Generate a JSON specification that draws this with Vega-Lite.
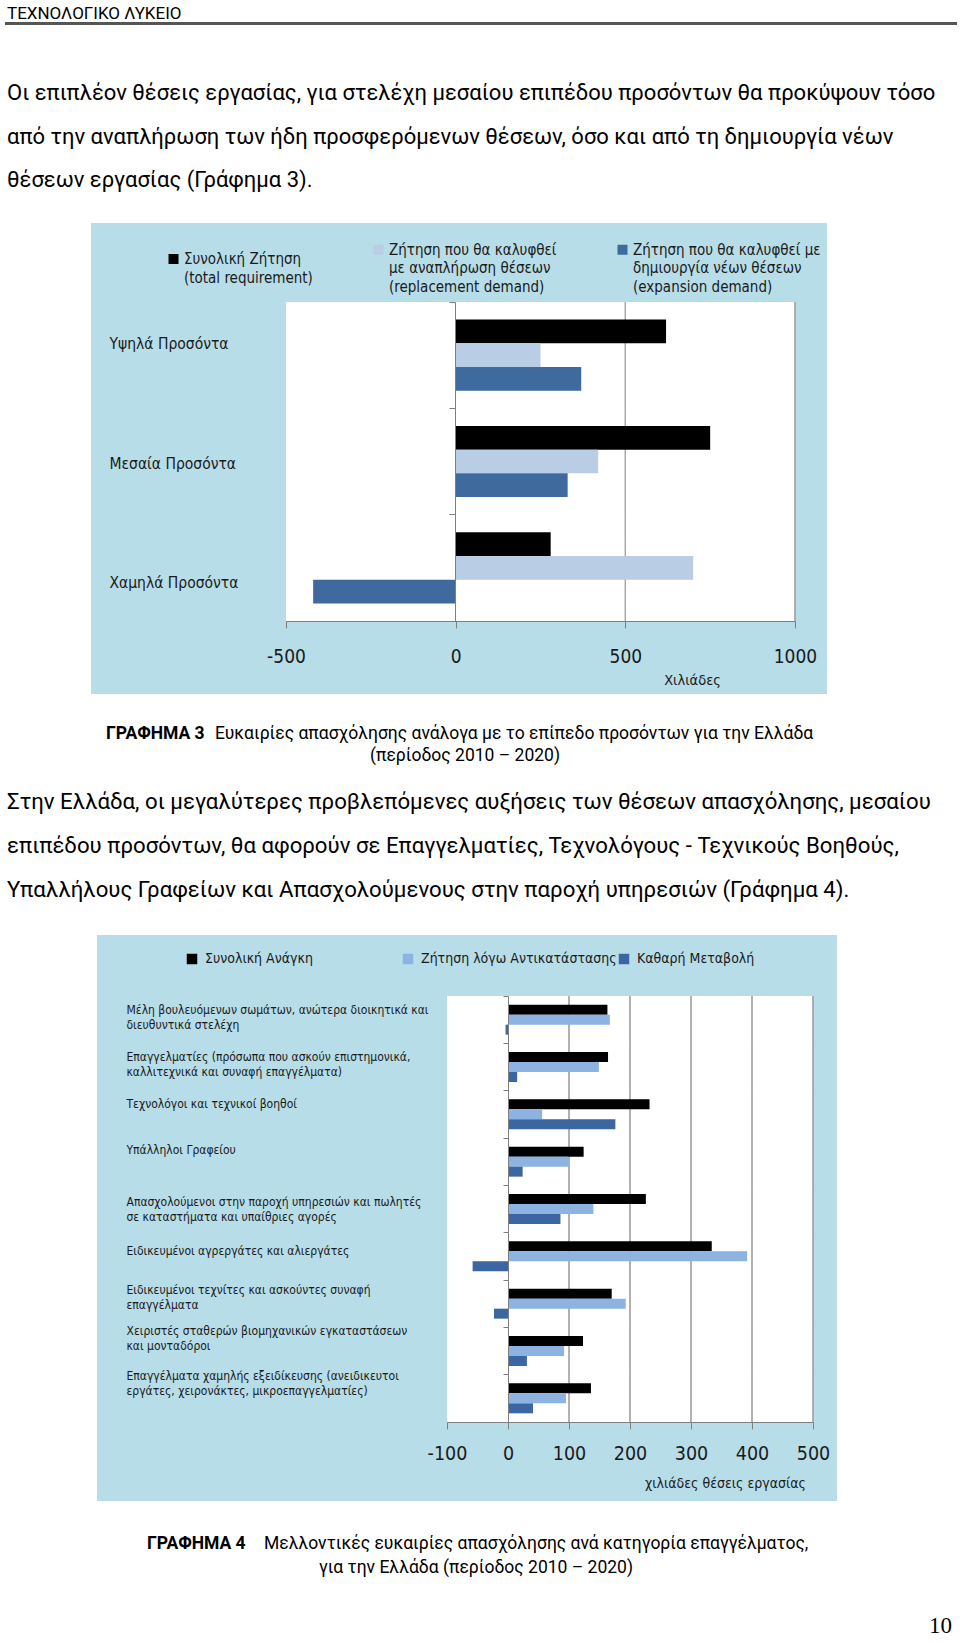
{
  "$schema": "https://vega.github.io/schema/vega-lite/v6.json",
  "background": "white",
  "padding": {"left": 5, "top": 0, "right": 0, "bottom": 0},
  "config": {
    "view": {"stroke": null},
    "title": {"font": "Roboto", "fontWeight": "normal", "color": "#000000", "anchor": "start", "orient": "bottom", "baseline": "top", "offset": 0}
  },
  "datasets": {
    "none": [],
    "qual": [
      {"level": "Υψηλά Προσόντα", "series": "Συνολική Ζήτηση\n(total requirement)", "value": 620},
      {"level": "Υψηλά Προσόντα", "series": "Ζήτηση που θα καλυφθεί\nμε αναπλήρωση θέσεων\n(replacement demand)", "value": 250},
      {"level": "Υψηλά Προσόντα", "series": "Ζήτηση που θα καλυφθεί με\nδημιουργία νέων θέσεων\n(expansion demand)", "value": 370},
      {"level": "Μεσαία Προσόντα", "series": "Συνολική Ζήτηση\n(total requirement)", "value": 750},
      {"level": "Μεσαία Προσόντα", "series": "Ζήτηση που θα καλυφθεί\nμε αναπλήρωση θέσεων\n(replacement demand)", "value": 420},
      {"level": "Μεσαία Προσόντα", "series": "Ζήτηση που θα καλυφθεί με\nδημιουργία νέων θέσεων\n(expansion demand)", "value": 330},
      {"level": "Χαμηλά Προσόντα", "series": "Συνολική Ζήτηση\n(total requirement)", "value": 280},
      {"level": "Χαμηλά Προσόντα", "series": "Ζήτηση που θα καλυφθεί\nμε αναπλήρωση θέσεων\n(replacement demand)", "value": 700},
      {"level": "Χαμηλά Προσόντα", "series": "Ζήτηση που θα καλυφθεί με\nδημιουργία νέων θέσεων\n(expansion demand)", "value": -420}
    ],
    "occ": [
      {"occupation": "Μέλη βουλευόμενων σωμάτων, ανώτερα διοικητικά και\nδιευθυντικά στελέχη", "series": "Συνολική Ανάγκη", "value": 163},
      {"occupation": "Μέλη βουλευόμενων σωμάτων, ανώτερα διοικητικά και\nδιευθυντικά στελέχη", "series": "Ζήτηση λόγω Αντικατάστασης", "value": 167},
      {"occupation": "Μέλη βουλευόμενων σωμάτων, ανώτερα διοικητικά και\nδιευθυντικά στελέχη", "series": "Καθαρή Μεταβολή", "value": -4},
      {"occupation": "Επαγγελματίες (πρόσωπα που ασκούν επιστημονικά,\nκαλλιτεχνικά και συναφή επαγγέλματα)", "series": "Συνολική Ανάγκη", "value": 164},
      {"occupation": "Επαγγελματίες (πρόσωπα που ασκούν επιστημονικά,\nκαλλιτεχνικά και συναφή επαγγέλματα)", "series": "Ζήτηση λόγω Αντικατάστασης", "value": 149},
      {"occupation": "Επαγγελματίες (πρόσωπα που ασκούν επιστημονικά,\nκαλλιτεχνικά και συναφή επαγγέλματα)", "series": "Καθαρή Μεταβολή", "value": 15},
      {"occupation": "Τεχνολόγοι και τεχνικοί βοηθοί", "series": "Συνολική Ανάγκη", "value": 232},
      {"occupation": "Τεχνολόγοι και τεχνικοί βοηθοί", "series": "Ζήτηση λόγω Αντικατάστασης", "value": 56},
      {"occupation": "Τεχνολόγοι και τεχνικοί βοηθοί", "series": "Καθαρή Μεταβολή", "value": 176},
      {"occupation": "Υπάλληλοι Γραφείου", "series": "Συνολική Ανάγκη", "value": 124},
      {"occupation": "Υπάλληλοι Γραφείου", "series": "Ζήτηση λόγω Αντικατάστασης", "value": 100},
      {"occupation": "Υπάλληλοι Γραφείου", "series": "Καθαρή Μεταβολή", "value": 24},
      {"occupation": "Απασχολούμενοι στην παροχή υπηρεσιών και πωλητές\nσε καταστήματα και υπαίθριες αγορές", "series": "Συνολική Ανάγκη", "value": 226},
      {"occupation": "Απασχολούμενοι στην παροχή υπηρεσιών και πωλητές\nσε καταστήματα και υπαίθριες αγορές", "series": "Ζήτηση λόγω Αντικατάστασης", "value": 140},
      {"occupation": "Απασχολούμενοι στην παροχή υπηρεσιών και πωλητές\nσε καταστήματα και υπαίθριες αγορές", "series": "Καθαρή Μεταβολή", "value": 86},
      {"occupation": "Ειδικευμένοι αγρεργάτες και αλιεργάτες", "series": "Συνολική Ανάγκη", "value": 334},
      {"occupation": "Ειδικευμένοι αγρεργάτες και αλιεργάτες", "series": "Ζήτηση λόγω Αντικατάστασης", "value": 392},
      {"occupation": "Ειδικευμένοι αγρεργάτες και αλιεργάτες", "series": "Καθαρή Μεταβολή", "value": -58},
      {"occupation": "Ειδικευμένοι τεχνίτες  και ασκούντες συναφή\nεπαγγέλματα", "series": "Συνολική Ανάγκη", "value": 170},
      {"occupation": "Ειδικευμένοι τεχνίτες  και ασκούντες συναφή\nεπαγγέλματα", "series": "Ζήτηση λόγω Αντικατάστασης", "value": 193},
      {"occupation": "Ειδικευμένοι τεχνίτες  και ασκούντες συναφή\nεπαγγέλματα", "series": "Καθαρή Μεταβολή", "value": -23},
      {"occupation": "Χειριστές σταθερών βιομηχανικών εγκαταστάσεων\nκαι μονταδόροι", "series": "Συνολική Ανάγκη", "value": 123},
      {"occupation": "Χειριστές σταθερών βιομηχανικών εγκαταστάσεων\nκαι μονταδόροι", "series": "Ζήτηση λόγω Αντικατάστασης", "value": 92},
      {"occupation": "Χειριστές σταθερών βιομηχανικών εγκαταστάσεων\nκαι μονταδόροι", "series": "Καθαρή Μεταβολή", "value": 31},
      {"occupation": "Επαγγέλματα χαμηλής εξειδίκευσης (ανειδικευτοι\nεργάτες, χειρονάκτες, μικροεπαγγελματίες)", "series": "Συνολική Ανάγκη", "value": 136},
      {"occupation": "Επαγγέλματα χαμηλής εξειδίκευσης (ανειδικευτοι\nεργάτες, χειρονάκτες, μικροεπαγγελματίες)", "series": "Ζήτηση λόγω Αντικατάστασης", "value": 95},
      {"occupation": "Επαγγέλματα χαμηλής εξειδίκευσης (ανειδικευτοι\nεργάτες, χειρονάκτες, μικροεπαγγελματίες)", "series": "Καθαρή Μεταβολή", "value": 41}
    ]
  },
  "spacing": 0,
  "resolve": {"scale": {"color": "independent", "yOffset": "independent"}, "legend": {"color": "independent"}},
  "vconcat": [
    {
      "width": 952, "height": 2,
      "title": {"text": "ΤΕΧΝΟΛΟΓΙΚΟ ΛΥΚΕΙΟ", "fontSize": 17, "dx": 2},
      "data": {"name": "none"}, "mark": "rect", "encoding": {}
    },
    {
      "width": 952, "height": 3,
      "view": {"fill": "#555555", "stroke": null},
      "data": {"name": "none"}, "mark": "rect", "encoding": {}
    },
    {
      "spacing": 31,
      "resolve": {"scale": {"color": "independent", "yOffset": "independent"}, "legend": {"color": "independent"}},
      "vconcat": [
        {
          "width": 947, "height": 54.3,
          "title": {"text": ["Οι επιπλέον θέσεις εργασίας, για στελέχη μεσαίου επιπέδου προσόντων θα προκύψουν τόσο", "από την αναπλήρωση των ήδη προσφερόμενων θέσεων, όσο και από τη δημιουργία νέων", "θέσεων εργασίας (Γράφημα 3)."], "fontSize": 22, "lineHeight": 43.5, "dx": 2},
          "data": {"name": "none"}, "mark": "rect", "encoding": {}
        },
        {
          "spacing": 0,
          "resolve": {"scale": {"color": "independent", "yOffset": "independent"}, "legend": {"color": "independent"}},
          "hconcat": [
            {"width": 86, "height": 1, "data": {"name": "none"}, "mark": "rect", "encoding": {}},
            {
              "width": 736, "height": 471,
              "view": {"fill": "#b7dde8", "stroke": null},
              "data": {"name": "qual"},
              "encoding": {
                "y": {"field": "level", "type": "nominal", "sort": null,
                  "scale": {"range": [79, 398], "paddingInner": 0, "paddingOuter": 0},
                  "axis": {"title": null, "offset": -364, "bandPosition": 0,
                    "labelOffset": {"condition": [{"test": "datum.value == 'Υψηλά Προσόντα'", "value": -11.5}, {"test": "datum.value == 'Χαμηλά Προσόντα'", "value": 15.5}], "value": 2.5},
                    "labelAlign": "left", "labelBaseline": "middle", "labelPadding": 340, "tickSize": 6, "tickColor": "#7f7f7f", "domainColor": "#7f7f7f", "labelFont": "DejaVu Sans Condensed, Roboto, sans-serif", "labelFontSize": 15.5, "labelColor": "#1a1a1a", "labelLimit": 400, "zindex": 1}}
              },
              "layer": [
                {"mark": {"type": "rect", "color": "white"}, "encoding": {"x": {"datum": -500, "type": "quantitative"}, "x2": {"datum": 1000}}},
                {"mark": {"type": "tick", "color": "#a6a6a6", "thickness": 1, "size": 106.33, "opacity": 1}, "encoding": {"x": {"datum": 500, "type": "quantitative"}}},
                {"mark": {"type": "tick", "color": "#a6a6a6", "thickness": 1, "size": 106.33, "opacity": 1}, "encoding": {"x": {"datum": 1000, "type": "quantitative"}}},
                {
                  "mark": {"type": "bar"},
                  "encoding": {
                    "x": {"field": "value", "type": "quantitative",
                      "scale": {"domain": [-500, 1000], "range": [195, 704], "nice": false},
                      "axis": {"title": "Χιλιάδες", "orient": "bottom", "offset": -73, "values": [-500, 0, 500, 1000], "labelExpr": "toString(datum.value)", "grid": false, "tickSize": 7, "tickColor": "#7f7f7f", "domainColor": "#7f7f7f", "labelFont": "DejaVu Sans Condensed, Roboto, sans-serif", "labelFontSize": 19, "labelColor": "#1a1a1a", "labelPadding": 19, "labelFlush": false, "labelOverlap": false, "titleFont": "DejaVu Sans Condensed, Roboto, sans-serif", "titleFontSize": 14.5, "titleFontWeight": "normal", "titleColor": "#1a1a1a", "titleX": 601, "titleY": 59, "titleAlign": "center", "titleBaseline": "middle", "zindex": 1}},
                    "yOffset": {"field": "series", "type": "nominal", "sort": null, "scale": {"paddingInner": 0, "paddingOuter": 0.74}},
                    "color": {"field": "series", "type": "nominal", "sort": null,
                      "scale": {"range": ["#000000", "#b9cde5", "#3f6a9d"]},
                      "legend": {"title": null, "orient": "none", "legendX": 75, "legendY": 19, "direction": "horizontal", "symbolType": "square", "symbolSize": 100, "symbolStrokeWidth": 0, "labelFont": "DejaVu Sans Condensed, Roboto, sans-serif", "labelFontSize": 15, "labelColor": "#1a1a1a", "labelLimit": 400, "labelOffset": 3, "columnPadding": 58, "labelBaseline": "middle", "labelExpr": "split(datum.label, '\\n')", "encode": {"labels": {"update": {"lineHeight": {"value": 18.5}}}}}}
                  }
                }
              ]
            }
          ]
        }
      ]
    },
    {
      "spacing": 10,
      "hconcat": [
        {"width": 91, "height": 26.5, "data": {"name": "none"}, "mark": "rect", "encoding": {}},
        {"width": 0, "height": 26.5, "title": {"text": "ΓΡΑΦΗΜΑ 3", "fontWeight": "bold", "fontSize": 17.5}, "data": {"name": "none"}, "mark": "rect", "encoding": {}},
        {"width": 0, "height": 26.5, "title": {"text": "Ευκαιρίες απασχόλησης ανάλογα με το επίπεδο προσόντων για την Ελλάδα", "fontSize": 17.5}, "data": {"name": "none"}, "mark": "rect", "encoding": {}}
      ]
    },
    {
      "width": 947, "height": 1,
      "title": {"text": "(περίοδος 2010 – 2020)", "anchor": "middle", "fontSize": 17.5, "dx": -13.5},
      "data": {"name": "none"}, "mark": "rect", "encoding": {}
    },
    {
      "spacing": 33,
      "resolve": {"scale": {"color": "independent", "yOffset": "independent"}, "legend": {"color": "independent"}},
      "vconcat": [
        {
          "width": 947, "height": 22,
          "title": {"text": ["Στην Ελλάδα, οι μεγαλύτερες προβλεπόμενες αυξήσεις των θέσεων απασχόλησης, μεσαίου", "επιπέδου προσόντων,  θα αφορούν σε Επαγγελματίες, Τεχνολόγους - Τεχνικούς Βοηθούς,", "Υπαλλήλους Γραφείων και Απασχολούμενους στην παροχή υπηρεσιών (Γράφημα 4)."], "fontSize": 22.2, "lineHeight": 44, "dx": 2},
          "data": {"name": "none"}, "mark": "rect", "encoding": {}
        },
        {
          "spacing": 0,
          "resolve": {"scale": {"color": "independent", "yOffset": "independent"}, "legend": {"color": "independent"}},
          "hconcat": [
            {"width": 92, "height": 1, "data": {"name": "none"}, "mark": "rect", "encoding": {}},
            {
              "width": 740, "height": 566,
              "view": {"fill": "#b7dde8", "stroke": null},
              "data": {"name": "occ"},
              "encoding": {
                "y": {"field": "occupation", "type": "nominal", "sort": null,
                  "scale": {"range": [61, 487], "paddingInner": 0, "paddingOuter": 0},
                  "axis": {"title": null, "offset": -411, "bandPosition": 0,
                    "labelOffset": {"condition": [
                      {"test": "indexof(datum.value, 'Υπάλληλοι') >= 0", "value": -12},
                      {"test": "indexof(datum.value, 'Απασχολούμενοι') >= 0", "value": -6.6},
                      {"test": "indexof(datum.value, 'αγρεργάτες') >= 0", "value": -5.6},
                      {"test": "indexof(datum.value, 'τεχνίτες') >= 0", "value": -14},
                      {"test": "indexof(datum.value, 'Χειριστές') >= 0", "value": -20},
                      {"test": "indexof(datum.value, 'χαμηλής') >= 0", "value": -22}
                    ], "value": -10},
                    "labelAlign": "left", "labelBaseline": "middle", "labelPadding": 377, "tickSize": 5, "tickColor": "#7f7f7f", "domainColor": "#7f7f7f", "labelFont": "DejaVu Sans Condensed, Roboto, sans-serif", "labelFontSize": 12, "labelLineHeight": 15, "labelColor": "#1a1a1a", "labelLimit": 400, "labelExpr": "split(datum.label, '\\n')", "zindex": 1}}
              },
              "layer": [
                {"mark": {"type": "rect", "color": "white"}, "encoding": {"x": {"datum": -100, "type": "quantitative"}, "x2": {"datum": 500}}},
                {"mark": {"type": "tick", "color": "#a6a6a6", "thickness": 1, "size": 47.33, "opacity": 1}, "encoding": {"x": {"datum": 100, "type": "quantitative"}}},
                {"mark": {"type": "tick", "color": "#a6a6a6", "thickness": 1, "size": 47.33, "opacity": 1}, "encoding": {"x": {"datum": 200, "type": "quantitative"}}},
                {"mark": {"type": "tick", "color": "#a6a6a6", "thickness": 1, "size": 47.33, "opacity": 1}, "encoding": {"x": {"datum": 300, "type": "quantitative"}}},
                {"mark": {"type": "tick", "color": "#a6a6a6", "thickness": 1, "size": 47.33, "opacity": 1}, "encoding": {"x": {"datum": 400, "type": "quantitative"}}},
                {"mark": {"type": "tick", "color": "#a6a6a6", "thickness": 1, "size": 47.33, "opacity": 1}, "encoding": {"x": {"datum": 500, "type": "quantitative"}}},
                {
                  "mark": {"type": "bar"},
                  "encoding": {
                    "x": {"field": "value", "type": "quantitative",
                      "scale": {"domain": [-100, 500], "range": [350, 716], "nice": false},
                      "axis": {"title": "χιλιάδες θέσεις εργασίας", "orient": "bottom", "offset": -79, "values": [-100, 0, 100, 200, 300, 400, 500], "labelExpr": "toString(datum.value)", "grid": false, "tickSize": 7, "tickColor": "#7f7f7f", "domainColor": "#7f7f7f", "labelFont": "DejaVu Sans Condensed, Roboto, sans-serif", "labelFontSize": 19.5, "labelColor": "#1a1a1a", "labelPadding": 15, "labelFlush": false, "labelOverlap": false, "titleFont": "DejaVu Sans Condensed, Roboto, sans-serif", "titleFontSize": 14, "titleFontWeight": "normal", "titleColor": "#1a1a1a", "titleX": 628, "titleY": 61, "titleAlign": "center", "titleBaseline": "middle", "zindex": 1}},
                    "yOffset": {"field": "series", "type": "nominal", "sort": null, "scale": {"paddingInner": 0, "paddingOuter": 0.87}},
                    "color": {"field": "series", "type": "nominal", "sort": null,
                      "scale": {"range": ["#000000", "#8db3e2", "#3b66a1"]},
                      "legend": {"title": null, "orient": "none", "legendX": 88, "legendY": 17, "direction": "horizontal", "gridAlign": "all", "symbolType": "square", "symbolSize": 110, "symbolStrokeWidth": 0, "labelFont": "DejaVu Sans Condensed, Roboto, sans-serif", "labelFontSize": 14, "labelColor": "#1a1a1a", "labelLimit": 400, "labelOffset": 6, "columnPadding": 0}}
                  }
                }
              ]
            }
          ]
        }
      ]
    },
    {
      "spacing": 18,
      "hconcat": [
        {"width": 124, "height": 29.5, "data": {"name": "none"}, "mark": "rect", "encoding": {}},
        {"width": 0, "height": 29.5, "title": {"text": "ΓΡΑΦΗΜΑ 4", "fontWeight": "bold", "fontSize": 17.5}, "data": {"name": "none"}, "mark": "rect", "encoding": {}},
        {"width": 0, "height": 29.5, "title": {"text": "Μελλοντικές ευκαιρίες απασχόλησης ανά κατηγορία επαγγέλματος,", "fontSize": 17.5}, "data": {"name": "none"}, "mark": "rect", "encoding": {}}
      ]
    },
    {
      "width": 947, "height": 3,
      "title": {"text": "για την Ελλάδα (περίοδος 2010 – 2020)", "anchor": "middle", "fontSize": 17.5, "dx": -2.5},
      "data": {"name": "none"}, "mark": "rect", "encoding": {}
    },
    {
      "width": 947, "height": 34,
      "title": {"text": "10", "anchor": "end", "font": "Liberation Serif", "fontSize": 23},
      "data": {"name": "none"}, "mark": "rect", "encoding": {}
    }
  ]
}
